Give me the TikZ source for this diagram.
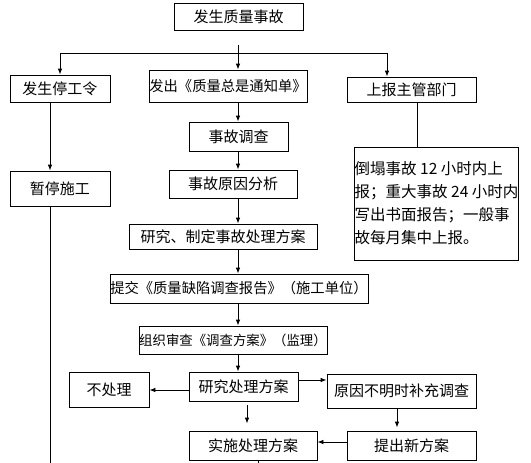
\documentclass[tikz,border=0pt]{standalone}
\usepackage{fontspec}
\newfontfamily\cjk{Noto Sans CJK SC}
\usetikzlibrary{arrows.meta}
\tikzset{
  box/.style={draw, line width=0.8pt, inner sep=0pt, align=center,
    font=\cjk\fontsize{15}{17}\selectfont},
  arr/.style={line width=0.8pt, -{Latex[length=6pt,width=4.5pt]}},
  ln/.style={line width=0.8pt}
}
\newcommand{\bx}[7]{\node[box, minimum width=#4pt, minimum height=#5pt, #6] (#1) at (#2,#3) {#7};}
\begin{document}
\begin{tikzpicture}[x=1pt,y=-1pt]
\useasboundingbox (0,0) rectangle (531,463);
\bx{n1}{238.5}{16.5}{129}{27}{}{发生质量事故}
\bx{n2}{60}{88.5}{100}{27}{}{发生停工令}
\bx{n3}{228}{86}{158}{32}{font=\cjk\fontsize{14.3}{17}\selectfont}{发出《质量总是通知单》}
\bx{n4}{411.5}{89.5}{129}{25}{}{上报主管部门}
\bx{n5}{238.5}{136.5}{99}{29}{}{事故调查}
\bx{n6}{233}{184}{128}{28}{}{事故原因分析}
\bx{n7}{223}{236.5}{188}{25}{}{研究、制定事故处理方案}
\bx{n8}{436.5}{203.5}{159}{113}{align=left, font=\cjk\fontsize{15.5}{23}\selectfont}{倒塌事故 12 小时内上\\报；重大事故 24 小时内\\写出书面报告；一般事\\故每月集中上报。}
\bx{n9}{60}{188.5}{100}{35}{}{暂停施工}
\bx{n10}{239}{288.5}{258}{29}{font=\cjk\fontsize{14.3}{17}\selectfont}{提交《质量缺陷调查报告》（施工单位）}
\bx{n11}{233}{340}{188}{28}{font=\cjk\fontsize{13.4}{16}\selectfont}{组织审查《调查方案》（监理）}
\bx{n12}{243.5}{386.5}{109}{29}{}{研究处理方案}
\bx{n13}{109}{389.5}{80}{35}{}{不处理}
\bx{n14}{401.5}{391}{149}{34}{}{原因不明时补充调查}
\bx{n15}{411.5}{445.5}{129}{29}{}{提出新方案}
\bx{n16}{253}{445.5}{128}{29}{}{实施处理方案}
% top split
\coordinate (s) at (238,45);
\coordinate (hl) at (60,53);
\coordinate (hr) at (387,53);
\draw[arr] (s) -- (s |- n3.north);
\draw[ln] (hl) -- (hr);
\draw[arr] (hl) -- (hl |- n2.north);
\draw[arr] (hr) -- (hr |- n4.north);
% middle chain
\coordinate (c) at (238,0);
\draw[arr] (c |- n3.south) -- (c |- n5.north);
\draw[arr] (c |- n5.south) -- (c |- n6.north);
\draw[arr] (c |- n6.south) -- (c |- n7.north);
\draw[arr] (c |- n7.south) -- (c |- n10.north);
\draw[arr] (c |- n10.south) -- (c |- n11.north);
\draw[arr] (c |- n11.south) -- (c |- n12.north);
% left column
\coordinate (l) at (50,0);
\coordinate (lb) at (50,463);
\draw[arr] (l |- n2.south) -- (l |- n9.north);
\draw[ln] (l |- n9.south) -- (lb);
% right column
\coordinate (r) at (417,0);
\draw[ln] (r |- n4.south) -- (r |- n8.north);
% bottom area
\coordinate (y1) at (0,390);
\coordinate (y2) at (0,380);
\draw[arr] (n12.west |- y1) -- (n13.east |- y1);
\draw[arr] (n12.east |- y2) -- (n14.west |- y2);
\coordinate (x3) at (397,0);
\draw[arr, shorten >=3pt] (x3 |- n14.south) -- (x3 |- n15.north);
\coordinate (y3) at (0,442);
\draw[arr] (n15.west |- y3) -- (n16.east |- y3);
\coordinate (x4) at (247,0);
\draw[arr, shorten <=4pt, shorten >=7pt] (x4 |- n12.south) -- (x4 |- n16.north);
\coordinate (x5) at (258,463);
\draw[ln] (x5 |- n16.south) -- (x5);
\end{tikzpicture}
\end{document}
